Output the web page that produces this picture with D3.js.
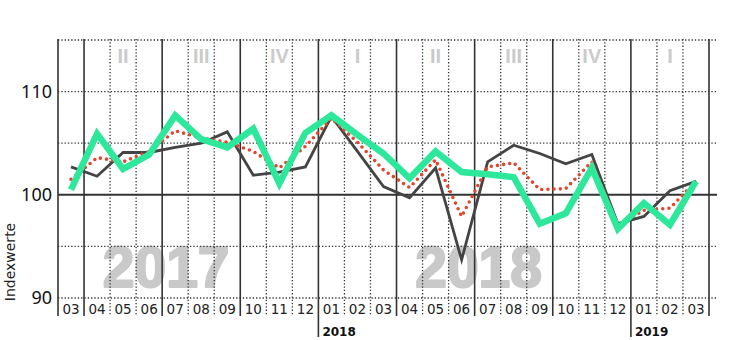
<!DOCTYPE html>
<html>
<head>
<meta charset="utf-8">
<script src="https://cdn.jsdelivr.net/npm/d3@7"></script>
<style>
	body { margin: 0; background: #fff; }
	svg text { font-family: "DejaVu Sans", sans-serif; }
</style>
</head>
<body>
<div id="chart"></div>
<script>
// months from 03/2017 to 03/2019
const months = ["03","04","05","06","07","08","09","10","11","12",
	"01","02","03","04","05","06","07","08","09","10","11","12",
	"01","02","03"];
const years = ["2017","2017","2017","2017","2017","2017","2017","2017","2017","2017",
	"2018","2018","2018","2018","2018","2018","2018","2018","2018","2018","2018","2018",
	"2019","2019","2019"];
const romans = {"02": "I", "05": "II", "08": "III", "11": "IV"};

// index values
const greySeries = [102.7, 101.8, 104.1, 104.1, 104.6, 105.0, 106.1, 101.9, 102.2, 102.7,
	107.6, 104.2, 100.8, 99.7, 102.6, 93.7, 103.2, 104.8, 104.0, 103.0, 103.9, 97.2,
	97.9, 100.4, 101.3];
const redSeries = [101.5, 103.6, 103.2, 104.2, 106.2, 105.5, 105.1, 104.2, 102.6, 104.7,
	107.4, 105.1, 102.4, 100.7, 103.4, 97.9, 102.7, 103.1, 100.5, 100.6, 103.2, 97.0,
	98.5, 98.7, 101.3];
const greenSeries = [100.5, 105.9, 102.5, 103.9, 107.7, 105.4, 104.6, 106.4, 101.1, 106.0,
	107.7, 105.8, 104.0, 101.6, 104.2, 102.2, 102.0, 101.7, 97.2, 98.2, 102.6, 96.7,
	99.2, 97.1, 101.3];

const yTicks = [90, 100, 110];
const yGrid = [90, 95, 100, 105, 110, 115];

const width = 730, height = 340;
const margin = {top: 40, right: 21, bottom: 42, left: 58};
const plotW = width - margin.left - margin.right,
	plotH = height - margin.top - margin.bottom;

let svg = d3.select("#chart")
	.append("svg")
	.attr("width", width)
	.attr("height", height);

let x = d3.scaleBand()
	.domain(d3.range(months.length))
	.range([margin.left, margin.left + plotW]);

let y = d3.scaleLinear()
	.domain([90, 115])
	.range([margin.top + plotH, margin.top]);

let cx = function (i) { return x(i) + x.bandwidth() / 2; };

// watermark years
svg.append("g")
	.selectAll("text")
	.data(["2017", "2018"])
	.enter()
	.append("text")
	.attr("x", function (d) { return x(years.indexOf(d) + months.slice(years.indexOf(d)).indexOf("07")) + 4; })
	.attr("y", y(90) - 11)
	.attr("text-anchor", "middle")
	.style("font-family", "'Liberation Sans', Arial, sans-serif")
	.style("font-weight", "bold")
	.style("font-size", "57px")
	.style("fill", "#c9c9c9")
	.style("stroke", "#c9c9c9")
	.style("stroke-width", 2.2)
	.style("stroke-linejoin", "round")
	.text(function (d) { return d; });

// quarter numerals
svg.append("g")
	.selectAll("text")
	.data(d3.range(months.length).filter(function (i) { return romans[months[i]]; }))
	.enter()
	.append("text")
	.attr("x", cx)
	.attr("y", 63)
	.attr("text-anchor", "middle")
	.style("font-family", "'Liberation Sans', Arial, sans-serif")
	.style("font-weight", "bold")
	.style("font-size", "20px")
	.style("fill", "#cbcbcb")
	.text(function (i) { return romans[months[i]]; });

// horizontal grid
svg.append("g")
	.selectAll("line")
	.data(yGrid)
	.enter()
	.append("line")
	.attr("x1", margin.left)
	.attr("x2", margin.left + plotW + 8)
	.attr("y1", y)
	.attr("y2", y)
	.attr("stroke", "#333")
	.attr("stroke-width", function (d) { return d === 100 ? 2 : 1.3; })
	.attr("stroke-dasharray", function (d) { return d === 100 ? null : "1.3,2"; });

// vertical grid, solid on quarter boundaries
let bounds = d3.range(months.length + 1);
let isQuarter = function (k) {
	return k === 0 || k === months.length || ["01", "04", "07", "10"].indexOf(months[k]) >= 0;
};
let bx = function (k) { return k < months.length ? x(k) : x(k - 1) + x.bandwidth(); };

svg.append("g")
	.selectAll("line")
	.data(bounds)
	.enter()
	.append("line")
	.attr("x1", bx)
	.attr("x2", bx)
	.attr("y1", margin.top - 1)
	.attr("y2", function (k) { return (k < months.length && k > 0 && months[k] === "01") ? 337 : 316; })
	.attr("stroke", "#333")
	.attr("stroke-width", function (k) { return isQuarter(k) ? 1.6 : 1.3; })
	.attr("stroke-dasharray", function (k) { return isQuarter(k) ? null : "1.3,2"; });

// month labels
svg.append("g")
	.attr("transform", "translate(0," + 314 + ")")
	.call(d3.axisBottom(x).tickSize(0).tickPadding(0).tickFormat(function (i) { return months[i]; }))
	.call(function (g) { g.select(".domain").remove(); })
	.selectAll("text")
	.attr("dy", 0)
	.style("font-family", "'DejaVu Sans', sans-serif")
	.style("font-size", "13.5px")
	.style("fill", "#222");

// year labels below axis
svg.append("g")
	.selectAll("text")
	.data(d3.range(1, months.length).filter(function (i) { return months[i] === "01"; }))
	.enter()
	.append("text")
	.attr("x", function (i) { return x(i) + 4; })
	.attr("y", 336)
	.style("font-weight", "bold")
	.style("font-size", "12px")
	.style("fill", "#111")
	.text(function (i) { return years[i]; });

// y axis
svg.append("g")
	.attr("transform", "translate(" + (margin.left - 6) + ",0)")
	.call(d3.axisLeft(y).tickValues(yTicks).tickSize(0).tickPadding(0))
	.call(function (g) { g.select(".domain").remove(); })
	.selectAll("text")
	.style("font-family", "'Noto Sans', sans-serif")
	.style("font-size", "18px")
	.style("fill", "#111");

svg.append("text")
	.attr("transform", "translate(15,262) rotate(-90)")
	.attr("text-anchor", "middle")
	.style("font-size", "14px")
	.style("fill", "#222")
	.text("Indexwerte");

// lines
let line = d3.line()
	.x(function (d, i) { return cx(i); })
	.y(function (d) { return y(d); });

svg.append("path")
	.datum(greySeries)
	.attr("d", line)
	.attr("fill", "none")
	.attr("stroke", "#444")
	.attr("stroke-width", 2.8)
	.attr("stroke-linejoin", "miter");

svg.append("path")
	.datum(redSeries)
	.attr("d", line)
	.attr("fill", "none")
	.attr("stroke", "#e2452d")
	.attr("stroke-width", 3.6)
	.attr("stroke-linecap", "round")
	.attr("stroke-dasharray", "0,6.2");

svg.append("path")
	.datum(greenSeries)
	.attr("d", line)
	.attr("fill", "none")
	.attr("stroke", "#2de89b")
	.attr("stroke-width", 6.5)
	.attr("stroke-linejoin", "miter");
</script>
</body>
</html>
